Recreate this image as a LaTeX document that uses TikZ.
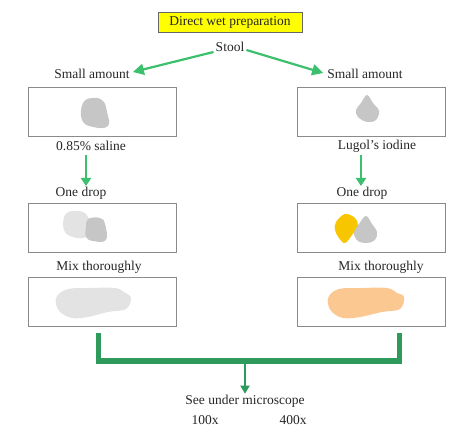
\documentclass[tikz,border=0pt]{standalone}
\usepackage{fontspec}
\setmainfont{Liberation Serif}
\usetikzlibrary{arrows.meta,calc}
\definecolor{arrowgreen}{HTML}{3CC06E}
\definecolor{brgreen}{HTML}{2E9B5C}
\definecolor{titleyellow}{HTML}{FFFF00}
\definecolor{boxgray}{HTML}{8A8A8A}
\definecolor{blobgray}{HTML}{C6C6C6}
\definecolor{bloblight}{HTML}{E3E3E3}
\definecolor{dropyellow}{HTML}{F7C600}
\definecolor{peach}{HTML}{FCC892}
\tikzset{
  lbl/.style={font=\fontsize{13.5}{15}\selectfont, inner sep=1pt, text=black!85},
  slide/.style={draw=boxgray, line width=0.9pt, minimum width=148pt, minimum height=49pt, inner sep=0pt},
  garrow/.style={draw=arrowgreen, line width=2.2pt, -{Triangle[length=11pt,width=11pt]}},
  vgarrow/.style={draw=arrowgreen, line width=2.2pt, -{Triangle[length=8pt,width=10pt]}},
  bracket/.style={draw=brgreen, line width=5pt},
  darrow/.style={draw=brgreen, line width=1.8pt, -{Triangle[length=8pt,width=9pt]}},
}
\begin{document}
\begin{tikzpicture}[x=1pt,y=-1pt]
\useasboundingbox (0,0) rectangle (474,438);
% title
\node[lbl, draw=black!60, fill=titleyellow, line width=0.8pt, minimum width=144pt, minimum height=20pt, text height=9.5pt, text depth=2.5pt] (title) at (230,22) {Direct wet preparation};
\node[lbl] (stool) at (230,47) {Stool};
\node[lbl] (smallL) at (92,74) {Small amount};
\node[lbl] (smallR) at (365,74) {Small amount};
\draw[garrow] ($(stool.west)+(-1,5)$) -- ($(smallL.east)+(2,-2)$);
\draw[garrow] ($(stool.east)+(1,3)$) -- ($(smallR.west)+(-3,-1)$);
% slides row 1
\node[slide] (b1L) at (102,111.5) {};
\node[slide] (b1R) at (371,111.5) {};
\node[lbl] (salineL) at (91,146) {0.85\% saline};
\node[lbl] (lugolR) at (377,146) {Lugol’s iodine};
\node[lbl] (dropL) at (81,193) {One drop};
\node[lbl] (dropR) at (362,193) {One drop};
\coordinate (aL1) at (86,155);
\coordinate (aL2) at (86,186);
\coordinate (aR1) at (361,155);
\coordinate (aR2) at (361,186);
\draw[vgarrow] (aL1) -- (aL2);
\draw[vgarrow] (aR1) -- (aR2);
% slides row 2
\node[slide] (b2L) at (102,227.5) {};
\node[slide] (b2R) at (371,227.5) {};
\node[lbl] (mixL) at (99,267) {Mix thoroughly};
\node[lbl] (mixR) at (381,267) {Mix thoroughly};
% slides row 3
\node[slide] (b3L) at (102,301.5) {};
\node[slide] (b3R) at (371,301.5) {};
% blobs
\fill[blobgray] plot[smooth cycle, tension=0.75] coordinates {(83,103) (93,98) (103,101) (107,112) (108,126) (93,127) (82,120)};
\fill[blobgray] plot[smooth cycle, tension=0.6] coordinates {(367,95) (373,103) (379,111) (376,120) (367,122) (358,117) (356,110) (361,103)};
\fill[bloblight] plot[smooth cycle, tension=0.7] coordinates {(65,215) (75,211) (86,214) (90,226) (86,237) (73,237) (64,230)};
\fill[blobgray] plot[smooth cycle, tension=0.7] coordinates {(88,219) (100,218) (105,224) (106,240) (93,241) (86,237) (86,227)};
\fill[dropyellow] plot[smooth cycle, tension=0.6] coordinates {(336,222) (345,214) (355,218) (358,226) (352,235) (345,243) (339,238) (335,230)};
\fill[blobgray] plot[smooth cycle, tension=0.6] coordinates {(366,216) (372,224) (377,232) (375,240) (367,243) (358,241) (354,233) (359,224)};
\fill[bloblight] plot[smooth cycle, tension=0.6] coordinates {(57,296) (68,289) (90,288) (115,288) (124,292) (131,298) (126,309) (108,312) (88,317) (72,318) (60,312) (56,304)};
\fill[peach] plot[smooth cycle, tension=0.6] coordinates {(329,296) (339,289) (362,288) (387,288) (397,293) (404,297) (400,309) (382,312) (360,317) (343,318) (332,312) (328,304)};
% bracket
\coordinate (k1) at (98,333);
\coordinate (k2) at (98,361);
\coordinate (k3) at (399,361);
\coordinate (k4) at (399,333);
\coordinate (kc) at (245,361);
\draw[bracket, line join=miter] (k1) -- (k2) -- (k3) -- (k4);
\node[lbl] (micro) at (245,401) {See under microscope};
\draw[darrow] (kc) -- (micro.north);
\node[lbl] (x100) at (205,420) {100x};
\node[lbl] (x400) at (293,420) {400x};
\end{tikzpicture}
\end{document}
